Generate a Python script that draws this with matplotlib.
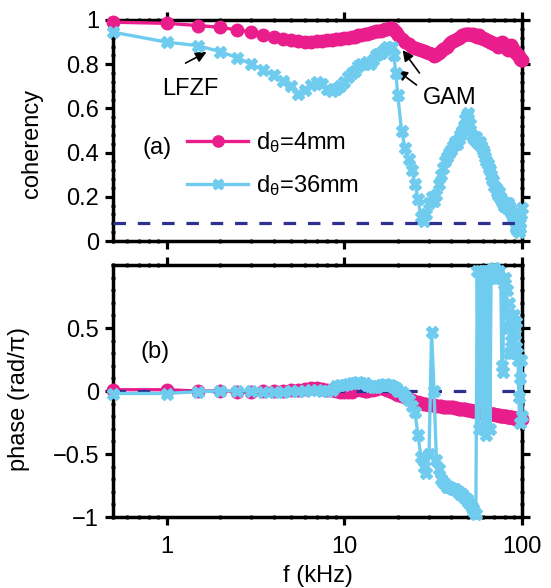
import numpy as np
import matplotlib
matplotlib.use("Agg")
import matplotlib.pyplot as plt
from matplotlib.ticker import FixedLocator, FuncFormatter, NullFormatter, LogLocator, AutoMinorLocator

plt.rcParams['font.family'] = ['Liberation Sans', 'DejaVu Sans']
plt.rcParams['font.size'] = 17
plt.rcParams['mathtext.fontset'] = 'custom'
plt.rcParams['mathtext.rm'] = 'Liberation Sans'
plt.rcParams['mathtext.it'] = 'Liberation Sans:italic'
plt.rcParams['lines.scale_dashes'] = False
plt.rcParams['axes.unicode_minus'] = True

# ---------------- data ----------------
# frequency grid (kHz): 0.5 kHz steps below 20 kHz, 1 kHz steps above
freq = np.concatenate([np.arange(0.5, 20.0, 0.5), np.arange(20, 101, 1)])

coh_4mm = [
    0.99, 0.985, 0.975, 0.967, 0.955, 0.945, 0.933, 0.922, 0.915, 0.91,
    0.905, 0.902, 0.90, 0.903, 0.905, 0.908, 0.91, 0.913, 0.915, 0.918,
    0.92, 0.922, 0.925, 0.93, 0.932, 0.935, 0.938, 0.94, 0.945, 0.948,
    0.95, 0.952, 0.955, 0.958, 0.96, 0.963, 0.962, 0.955, 0.945,
    0.93, 0.915, 0.90, 0.89, 0.88, 0.875, 0.87, 0.865, 0.86, 0.855,
    0.85, 0.845, 0.835, 0.84, 0.85, 0.86, 0.87, 0.875, 0.88, 0.89,
    0.90, 0.905, 0.91, 0.915, 0.92, 0.925, 0.93, 0.93, 0.935, 0.935,
    0.935, 0.935, 0.93, 0.935, 0.93, 0.93, 0.925, 0.93, 0.925, 0.92,
    0.92, 0.915, 0.915, 0.91, 0.905, 0.905, 0.90, 0.90, 0.895, 0.895,
    0.89, 0.89, 0.885, 0.88, 0.885, 0.89, 0.895, 0.90, 0.895, 0.89,
    0.885, 0.88, 0.87, 0.865, 0.87, 0.875, 0.88, 0.885, 0.88, 0.87,
    0.86, 0.855, 0.85, 0.85, 0.845, 0.84, 0.835, 0.83, 0.825, 0.82, 0.82]

coh_36mm = [
    0.945, 0.90, 0.884, 0.857, 0.83, 0.80, 0.775, 0.75, 0.725, 0.70,
    0.665, 0.685, 0.705, 0.72, 0.71, 0.69, 0.68, 0.69, 0.70, 0.72,
    0.74, 0.76, 0.77, 0.79, 0.80, 0.80, 0.81, 0.80, 0.82, 0.84,
    0.845, 0.85, 0.86, 0.87, 0.88, 0.875, 0.88, 0.84, 0.76,
    0.66, 0.50, 0.42, 0.37, 0.32, 0.26, 0.19, 0.11, 0.09, 0.12,
    0.17, 0.20, 0.18, 0.21, 0.26, 0.30, 0.33, 0.36, 0.38, 0.40,
    0.41, 0.43, 0.45, 0.44, 0.46, 0.48, 0.50, 0.52, 0.55, 0.57,
    0.58, 0.53, 0.48, 0.47, 0.46, 0.47, 0.45, 0.44, 0.45, 0.43,
    0.41, 0.40, 0.38, 0.36, 0.35, 0.33, 0.32, 0.30, 0.28, 0.27,
    0.25, 0.24, 0.22, 0.21, 0.22, 0.20, 0.19, 0.18, 0.17, 0.16,
    0.16, 0.17, 0.15, 0.17, 0.16, 0.15, 0.14, 0.13, 0.12, 0.11,
    0.10, 0.09, 0.07, 0.06, 0.05, 0.05, 0.04, 0.06, 0.08, 0.12, 0.15]

phase_4mm = [
    0.01, 0.01, 0.0, 0.0, -0.005, -0.005, 0.0, 0.0, 0.0, 0.005,
    0.01, 0.015, 0.02, 0.02, 0.015, 0.01, 0.005, 0.0, -0.005, -0.01,
    -0.01, -0.005, 0.005, 0.015, 0.01, 0.0, 0.0, 0.005, 0.01, 0.015,
    0.02, 0.02, 0.02, 0.015, 0.01, 0.0, -0.005, -0.01, -0.02,
    -0.03, -0.04, -0.05, -0.065, -0.075, -0.085, -0.09, -0.095, -0.10, -0.105,
    -0.11, -0.115, -0.115, -0.12, -0.12, -0.12, -0.125, -0.125, -0.125, -0.13,
    -0.13, -0.13, -0.135, -0.135, -0.14, -0.14, -0.14, -0.145, -0.145, -0.15,
    -0.15, -0.15, -0.155, -0.155, -0.16, -0.16, -0.16, -0.165, -0.165, -0.17,
    -0.17, -0.17, -0.175, -0.175, -0.175, -0.18, -0.18, -0.18, -0.185, -0.185,
    -0.185, -0.19, -0.19, -0.19, -0.19, -0.195, -0.195, -0.195, -0.20, -0.20,
    -0.20, -0.20, -0.205, -0.205, -0.205, -0.21, -0.21, -0.21, -0.21, -0.215,
    -0.215, -0.215, -0.215, -0.22, -0.22, -0.22, -0.22, -0.225, -0.225, -0.225, -0.22]

phase_36mm = [
    -0.02, -0.02, -0.005, 0.0, 0.0, 0.0, -0.005, -0.005, -0.005, 0.0,
    0.0, 0.0, 0.005, 0.005, 0.0, 0.0, 0.01, 0.04, 0.05, 0.05,
    0.055, 0.06, 0.06, 0.07, 0.065, 0.06, 0.05, 0.04, 0.035, 0.03,
    0.04, 0.045, 0.05, 0.055, 0.05, 0.045, 0.04, 0.03, 0.02,
    0.0, -0.01, -0.04, -0.07, -0.12, -0.17, -0.35, -0.52, -0.60, -0.65,
    -0.50, 0.47, 0.0, -0.55, -0.62, -0.70, -0.72, -0.74, -0.76, -0.76,
    -0.77, -0.78, -0.78, -0.79, -0.80, -0.82, -0.82, -0.84, -0.85, -0.86,
    -0.88, -0.90, -0.92, -0.94, -0.96, -0.98, 0.95, -0.30, 0.95, 0.30,
    -0.30, 0.95, 0.92, -0.35, 0.95, 0.90, -0.30, 0.95, 0.97, 0.93,
    0.98, 0.95, 0.90, 0.93, 0.95, 0.90, 0.90, 0.20, 0.15, 0.85,
    0.90, 0.60, 0.80, 0.50, 0.70, 0.30, 0.60, 0.40, 0.30, 0.55,
    0.60, 0.45, 0.55, 0.35, 0.30, 0.25, -0.05, -0.25, 0.10, 0.25, -0.20]

coh_level = 0.08
phase_ref = 0.0

labels = [r'd$_{\mathregular{θ}}$=4mm', r'd$_{\mathregular{θ}}$=36mm']

# ---------------- style ----------------
PINK = '#E91E8C'
BLUE = '#70CCEE'
NAVY = '#2E3192'

fig = plt.figure(figsize=(5.51, 5.88), dpi=100)
L, W = 113 / 551, 409 / 551
ax1 = fig.add_axes([L, 1 - 241 / 588, W, 221 / 588])
ax2 = fig.add_axes([L, 1 - 517 / 588, W, 252 / 588], sharex=ax1)

fmt = FuncFormatter(lambda v, p: f'{v:g}'.replace('-', '\u2212'))

for ax in (ax1, ax2):
    ax.set_xscale('log')
    for s in ax.spines.values():
        s.set_linewidth(2.5)
    ax.tick_params(which='major', direction='out', length=6, width=2.3,
                   top=True, right=True, labelsize=17, pad=4)
    ax.tick_params(which='minor', direction='inout', length=3.5, width=1.9,
                   top=True, right=True)
    ax.yaxis.set_major_formatter(fmt)
    ax.yaxis.set_minor_locator(AutoMinorLocator(5))

ax1.xaxis.set_major_locator(FixedLocator([1, 10, 100]))
ax1.xaxis.set_minor_locator(LogLocator(base=10, subs=np.arange(2, 10)))
ax1.xaxis.set_major_formatter(fmt)
ax1.xaxis.set_minor_formatter(NullFormatter())
ax1.set_xlim(0.5, 100)
ax1.tick_params(axis='x', labelbottom=False)
ax2.tick_params(axis='x', pad=8)

# panel (a)
l1, = ax1.plot(freq, coh_4mm, '-o', color=PINK, lw=2.4, ms=9, mec=PINK, zorder=3, clip_on=False)
l2, = ax1.plot(freq, coh_36mm, '-X', color=BLUE, lw=2.4, ms=8.5, mec=BLUE, zorder=3.1, clip_on=False)
ax1.axhline(coh_level, color=NAVY, lw=2.3, dashes=(9, 8.5), zorder=4)
ax1.set_ylim(0, 1)
ax1.yaxis.set_major_locator(FixedLocator([0, 0.2, 0.4, 0.6, 0.8, 1.0]))
ax1.set_ylabel('coherency', fontsize=17)
ax1.yaxis.set_label_coords(-0.171, 0.443)

ax1.text(0.89, 0.42, '(a)', ha='center', va='center', fontsize=17)
ax1.text(1.37, 0.69, 'LFZF', ha='center', va='center', fontsize=17)
ax1.text(39.2, 0.647, 'GAM', ha='center', va='center', fontsize=17)
arw = dict(arrowstyle='-|>', color='k', lw=1.2, mutation_scale=16, shrinkA=0, shrinkB=0)
ax1.annotate('', xy=(1.68, 0.855), xytext=(1.28, 0.805), arrowprops=arw)
ax1.annotate('', xy=(21.3, 0.864), xytext=(26.5, 0.76), arrowprops=arw)
ax1.annotate('', xy=(19.7, 0.774), xytext=(25.5, 0.706), arrowprops=arw)

leg = ax1.legend([l1, l2], labels, loc='upper left', bbox_to_anchor=(0.181, 0.50),
                 frameon=False, borderpad=0, borderaxespad=0, handlelength=2.6,
                 handletextpad=0.3, labelspacing=0.76, numpoints=1, fontsize=17,
                 markerscale=0.9)

# panel (b)
ax2.plot(freq, phase_4mm, '-o', color=PINK, lw=2.4, ms=9, mec=PINK, zorder=3, clip_on=False)
ax2.axhline(phase_ref, color=NAVY, lw=2.3, dashes=(9, 8.5), zorder=3.05)
ax2.plot(freq, phase_36mm, '-X', color=BLUE, lw=2.4, ms=8.5, mec=BLUE, zorder=3.1, clip_on=False)
ax2.set_ylim(-1, 1)
ax2.yaxis.set_major_locator(FixedLocator([-1, -0.5, 0, 0.5]))
ax2.set_ylabel('phase (rad/π)', fontsize=17)
ax2.yaxis.set_label_coords(-0.203, 0.47)
ax2.set_xlabel('f (kHz)', fontsize=17, labelpad=5)
ax2.text(0.867, 0.31, '(b)', ha='center', va='center', fontsize=17)

fig.savefig('out.png', dpi=100)
